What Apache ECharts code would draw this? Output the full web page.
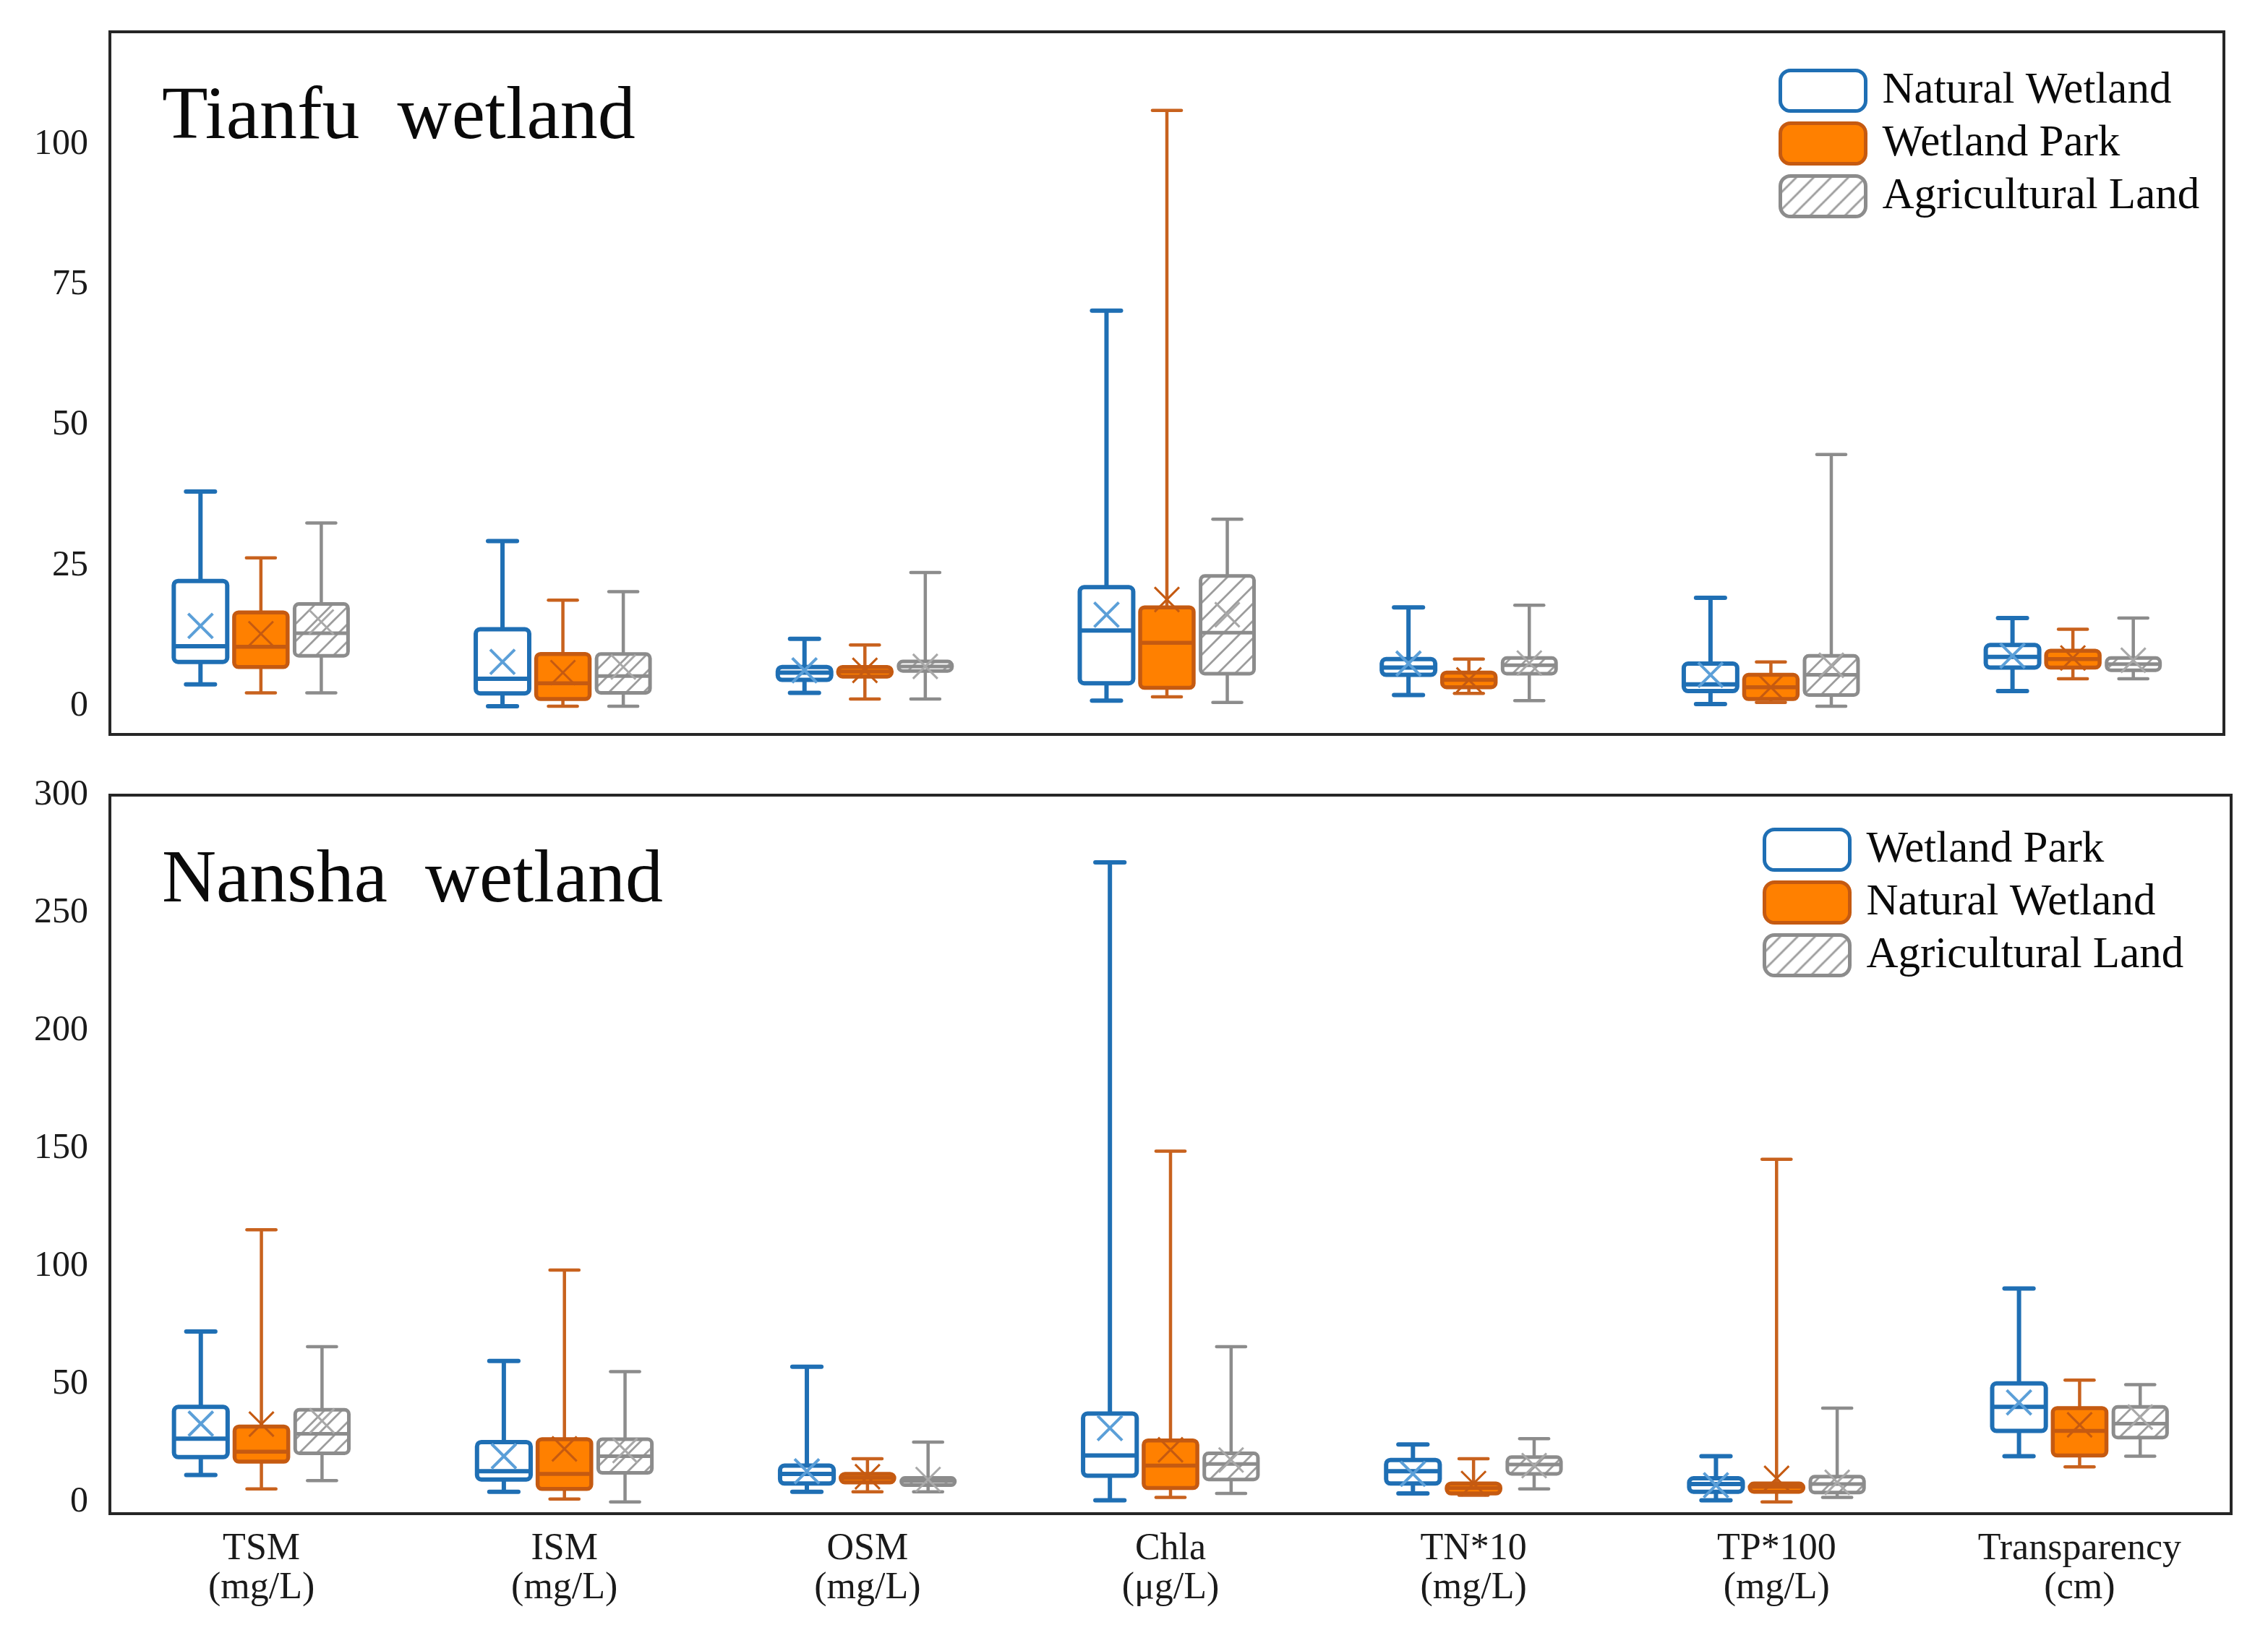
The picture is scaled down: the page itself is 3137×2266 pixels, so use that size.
<!DOCTYPE html>
<html>
<head>
<meta charset="utf-8">
<script src="https://cdn.jsdelivr.net/npm/echarts@6/dist/echarts.min.js"></script>
<style>
html,body{margin:0;padding:0;background:#fff;}
#chart{width:3137px;height:2266px;}
</style>
</head>
<body>
<div id="chart"></div>
<script>
// ---------- DATA ----------
const categories = ['TSM\n(mg/L)', 'ISM\n(mg/L)', 'OSM\n(mg/L)', 'Chla\n(μg/L)', 'TN*10\n(mg/L)', 'TP*100\n(mg/L)', 'Transparency\n(cm)'];

// each row: [min, Q1, median, Q3, max, mean]
const tianfuNaturalWetland = [
  [3.9, 7.9, 10.7, 22.3, 38.2, 14.3],
  [0.0, 2.3, 4.9, 13.7, 29.4, 7.9],
  [2.4, 4.7, 6.0, 7.0, 12.0, 6.4],
  [1.0, 4.1, 13.5, 21.2, 70.4, 16.3],
  [2.0, 5.6, 6.9, 8.4, 17.6, 7.6],
  [0.4, 2.7, 3.9, 7.6, 19.3, 5.6],
  [2.7, 6.9, 8.8, 10.9, 15.7, 9.0]
];
const tianfuWetlandPark = [
  [2.4, 7.0, 10.6, 16.7, 26.4, 12.9],
  [0.0, 1.3, 4.1, 9.3, 18.9, 6.0],
  [1.3, 5.3, 6.2, 7.0, 10.9, 6.4],
  [1.7, 3.3, 11.3, 17.6, 106.0, 19.0],
  [2.3, 3.4, 4.7, 6.0, 8.4, 4.7],
  [0.7, 1.3, 3.4, 5.6, 7.9, 3.4],
  [4.9, 6.9, 8.4, 9.9, 13.7, 8.6]
];
const tianfuAgriculturalLand = [
  [2.4, 9.0, 13.0, 18.2, 32.6, 15.0],
  [0.0, 2.4, 5.4, 9.3, 20.4, 7.0],
  [1.3, 6.3, 7.1, 8.0, 23.8, 7.1],
  [0.7, 5.8, 13.1, 23.2, 33.3, 16.3],
  [1.0, 5.8, 7.3, 8.6, 18.0, 7.7],
  [0.0, 2.0, 5.6, 9.0, 44.8, 7.3],
  [4.9, 6.4, 7.5, 8.6, 15.7, 8.2]
];
const nanshaWetlandPark = [
  [11.4, 19.0, 26.8, 40.3, 72.3, 33.2],
  [4.3, 9.5, 13.0, 25.4, 59.8, 19.4],
  [4.3, 7.8, 11.9, 15.4, 57.4, 13.0],
  [0.7, 11.1, 19.7, 37.5, 271.5, 31.3],
  [3.6, 7.8, 13.0, 17.8, 24.4, 11.9],
  [0.7, 4.3, 7.6, 10.0, 19.4, 7.1],
  [19.4, 30.1, 40.3, 50.3, 90.6, 42.2]
];
const nanshaNaturalWetland = [
  [5.5, 17.1, 21.3, 32.0, 115.5, 33.0],
  [1.2, 5.5, 11.9, 26.6, 98.4, 22.5],
  [4.3, 8.3, 10.2, 11.9, 18.3, 10.7],
  [1.9, 5.9, 15.4, 26.1, 148.9, 22.1],
  [2.8, 3.6, 5.9, 7.8, 18.3, 7.8],
  [0.0, 4.3, 6.4, 7.8, 145.4, 10.0],
  [14.9, 19.7, 30.1, 39.8, 51.7, 32.7]
];
const nanshaAgriculturalLand = [
  [9.0, 20.6, 28.9, 39.1, 65.9, 34.4],
  [0.0, 12.3, 19.4, 26.6, 55.3, 21.8],
  [4.3, 7.1, 8.8, 10.2, 25.4, 9.5],
  [3.6, 9.5, 16.1, 20.6, 65.9, 17.8],
  [5.5, 11.9, 15.9, 19.0, 26.8, 15.4],
  [1.9, 4.0, 7.6, 10.7, 39.8, 8.3],
  [19.4, 27.3, 33.2, 40.3, 49.8, 36.0]
];
const tianfuTicks = [0, 25, 50, 75, 100];
const nanshaTicks = [0, 50, 100, 150, 200, 250, 300];

// ---------- STYLES ----------
const FONT = 'Liberation Serif';
const BLUE = '#1f6fb4';
const ORANGE_FILL = '#ff8000';
const ORANGE_LINE = '#c55a11';
const GRAY = '#8c8c8c';

function makeHatch() {
  const s = 24, c = document.createElement('canvas');
  c.width = s; c.height = s;
  const g = c.getContext('2d');
  g.fillStyle = '#ffffff'; g.fillRect(0, 0, s, s);
  g.strokeStyle = '#9c9c9c'; g.lineWidth = 2.8;
  g.beginPath();
  g.moveTo(-2, s + 2); g.lineTo(s + 2, -2);
  g.moveTo(-s / 2 - 2, s / 2 + 2); g.lineTo(s / 2 + 2, -s / 2 - 2);
  g.moveTo(s / 2 - 2, s * 1.5 + 2); g.lineTo(s * 1.5 + 2, s / 2 - 2);
  g.stroke();
  return c;
}
const hatch = makeHatch();
const HATCH = { image: hatch, repeat: 'repeat' };

const STYLE = {
  blue:   { line: BLUE, fill: '#ffffff', whisker: BLUE, wLW: 6, lw: 6, mean: '#5b9fd8', mLW: 4 },
  orange: { line: ORANGE_LINE, fill: ORANGE_FILL, whisker: '#c8621e', wLW: 4.5, lw: 5.5, mean: ORANGE_LINE, mLW: 3 },
  gray:   { line: GRAY, fill: HATCH, whisker: GRAY, wLW: 4.5, lw: 5, mean: '#a8a8a8', mLW: 3 }
};

function makeRender(slot, st) {
  return function (params, api) {
    const i = api.value(0);
    const lo = api.coord([i, api.value(1)]);
    const q1 = api.coord([i, api.value(2)]);
    const md = api.coord([i, api.value(3)]);
    const q3 = api.coord([i, api.value(4)]);
    const hi = api.coord([i, api.value(5)]);
    const mn = api.coord([i, api.value(6)]);
    const band = api.size([1, 0])[0];
    const cx = lo[0] + (slot - 1) * band * 0.2;
    const bw = band * 0.177;
    const cw = band * 0.096;
    const mh = 17;
    const wStyle = { stroke: st.whisker, lineWidth: st.wLW, lineCap: 'butt' };
    return {
      type: 'group',
      children: [
        { type: 'line', shape: { x1: cx, y1: hi[1], x2: cx, y2: q3[1] }, style: wStyle },
        { type: 'line', shape: { x1: cx, y1: q1[1], x2: cx, y2: lo[1] }, style: wStyle },
        { type: 'line', shape: { x1: cx - cw / 2, y1: hi[1], x2: cx + cw / 2, y2: hi[1] }, style: Object.assign({}, wStyle, { lineCap: 'round' }) },
        { type: 'line', shape: { x1: cx - cw / 2, y1: lo[1], x2: cx + cw / 2, y2: lo[1] }, style: Object.assign({}, wStyle, { lineCap: 'round' }) },
        { type: 'rect', shape: { x: cx - bw / 2, y: q3[1], width: bw, height: q1[1] - q3[1], r: 6 },
          style: { fill: st.fill, stroke: st.line, lineWidth: st.lw } },
        { type: 'line', shape: { x1: cx - bw / 2, y1: md[1], x2: cx + bw / 2, y2: md[1] }, style: { stroke: st.line, lineWidth: st.lw } },
        { type: 'line', shape: { x1: cx - mh, y1: mn[1] - mh, x2: cx + mh, y2: mn[1] + mh }, style: { stroke: st.mean, lineWidth: st.mLW } },
        { type: 'line', shape: { x1: cx - mh, y1: mn[1] + mh, x2: cx + mh, y2: mn[1] - mh }, style: { stroke: st.mean, lineWidth: st.mLW } }
      ]
    };
  };
}

function toData(rows) { return rows.map((r, i) => [i].concat(r)); }

function boxSeries(name, rows, slot, st, gridIdx) {
  return {
    name: name,
    type: 'custom',
    xAxisIndex: gridIdx,
    yAxisIndex: gridIdx,
    renderItem: makeRender(slot, st),
    encode: { x: 0, y: [1, 2, 3, 4, 5, 6] },
    data: toData(rows),
    clip: false,
    silent: true
  };
}

function legendItem(name, st) {
  return { name: name, itemStyle: { color: st.fill, borderColor: st.line, borderWidth: 5 } };
}

const legendText = { fontFamily: FONT, fontSize: 61, color: '#0a0a0a', lineHeight: 56, padding: [0, 0, 0, 18] };

const yLabel = (ticks) => ({
  fontFamily: FONT, fontSize: 50, color: '#1a1a1a', margin: 30,
  formatter: (v) => (ticks.indexOf(v) >= 0 ? String(v) : '')
});

const option = {
  animation: false,
  backgroundColor: '#ffffff',
  grid: [
    { left: 152, top: 44, width: 2924, height: 972, show: true, borderColor: '#262626', borderWidth: 4, containLabel: false },
    { left: 152, top: 1100, width: 2934, height: 994, show: true, borderColor: '#262626', borderWidth: 4, containLabel: false }
  ],
  xAxis: [
    { type: 'category', gridIndex: 0, data: categories, boundaryGap: true,
      axisLine: { show: false }, axisTick: { show: false }, axisLabel: { show: false }, splitLine: { show: false } },
    { type: 'category', gridIndex: 1, data: categories, boundaryGap: true,
      axisLine: { show: false }, axisTick: { show: false }, splitLine: { show: false },
      axisLabel: { interval: 0, fontFamily: FONT, fontSize: 52, lineHeight: 54, color: '#1a1a1a', margin: 22 } }
  ],
  yAxis: [
    { type: 'value', gridIndex: 0, min: -5, max: 120, interval: 5,
      axisLine: { show: false }, axisTick: { show: false }, splitLine: { show: false },
      axisLabel: yLabel(tianfuTicks) },
    { type: 'value', gridIndex: 1, min: -5, max: 300, interval: 5,
      axisLine: { show: false }, axisTick: { show: false }, splitLine: { show: false },
      axisLabel: Object.assign(yLabel(nanshaTicks), { showMaxLabel: true }) }
  ],
  legend: [
    { orient: 'vertical', left: 2460, top: 95, itemWidth: 118, itemHeight: 56, itemGap: 12, padding: 0,
      icon: 'roundRect', selectedMode: false, textStyle: legendText,
      data: [legendItem('Natural Wetland', STYLE.blue), legendItem('Wetland Park', STYLE.orange), legendItem('Agricultural Land', STYLE.gray)] },
    { orient: 'vertical', left: 2438, top: 1145, itemWidth: 118, itemHeight: 56, itemGap: 12, padding: 0,
      icon: 'roundRect', selectedMode: false, textStyle: legendText,
      data: [legendItem('Wetland Park', STYLE.blue), legendItem('Natural Wetland', STYLE.orange), legendItem('Agricultural Land', STYLE.gray)] }
  ],
  graphic: [
    { type: 'text', x: 224, y: 164, silent: true,
      style: { text: 'Tianfu  wetland', fontFamily: FONT, fontSize: 104, fill: '#0a0a0a', verticalAlign: 'middle', align: 'left' } },
    { type: 'text', x: 224, y: 1220, silent: true,
      style: { text: 'Nansha  wetland', fontFamily: FONT, fontSize: 104, fill: '#0a0a0a', verticalAlign: 'middle', align: 'left' } }
  ],
  series: [
    boxSeries('Natural Wetland', tianfuNaturalWetland, 0, STYLE.blue, 0),
    boxSeries('Wetland Park', tianfuWetlandPark, 1, STYLE.orange, 0),
    boxSeries('Agricultural Land', tianfuAgriculturalLand, 2, STYLE.gray, 0),
    boxSeries('Wetland Park', nanshaWetlandPark, 0, STYLE.blue, 1),
    boxSeries('Natural Wetland', nanshaNaturalWetland, 1, STYLE.orange, 1),
    boxSeries('Agricultural Land', nanshaAgriculturalLand, 2, STYLE.gray, 1)
  ]
};

const chart = echarts.init(document.getElementById('chart'), null, { renderer: 'canvas' });
chart.setOption(option);
</script>
</body>
</html>
